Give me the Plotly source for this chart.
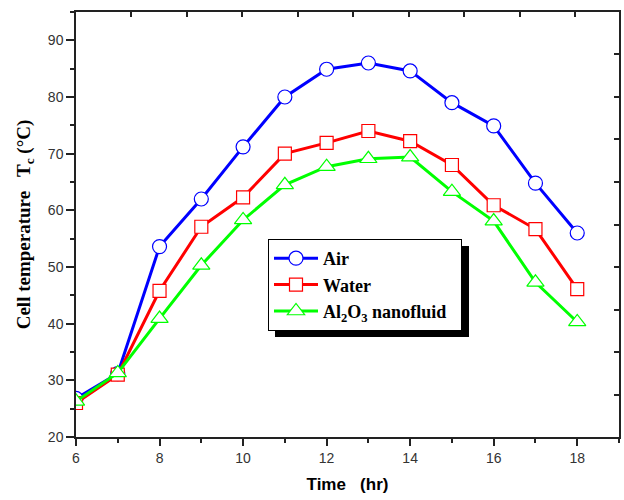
import plotly.graph_objects as go

hours = [6, 7, 8, 9, 10, 11, 12, 13, 14, 15, 16, 17, 18]
air = [26.8, 31.2, 53.6, 62.0, 71.2, 80.0, 84.9, 86.0, 84.6, 79.0, 74.9, 64.8, 56.0]
water = [26.0, 31.0, 45.8, 57.1, 62.3, 70.0, 71.9, 74.0, 72.2, 68.0, 60.9, 56.7, 46.1]
al2o3 = [26.3, 31.3, 40.9, 50.3, 58.3, 64.5, 67.7, 69.1, 69.4, 63.3, 58.1, 47.3, 40.3]

series_names = ["Air", "Water", "Al<sub>2</sub>O<sub>3</sub> nanofluid\u00a0\u00a0"]
series_values = [air, water, al2o3]
series_colors = ["#0000FF", "#FF0000", "#00FF00"]
series_symbols = ["circle", "square", "triangle-up"]
series_sizes = [14, 13, 15]

W, H = 624, 500
L, R, T, B = 76, 5, 12, 63
pw, ph = W - L - R, H - T - B

def px_x(p):
    return (p - L) / pw

def px_y(p):
    return (H - B - p) / ph

fig = go.Figure()
for name, vals, col, sym, sz in zip(series_names, series_values, series_colors, series_symbols, series_sizes):
    fig.add_trace(go.Scatter(
        x=hours, y=vals, name=name, mode="lines+markers",
        line=dict(color=col, width=3),
        marker=dict(symbol=sym, size=sz, color="white", line=dict(color=col, width=1.2)),
    ))

# helper trace for mirrored top/right axes
fig.add_trace(go.Scatter(x=[0.5], y=[0.5], xaxis="x2", yaxis="y2", mode="markers",
                         marker=dict(opacity=0, size=1), showlegend=False, hoverinfo="skip"))

axis_col = "#222222"
tick_font = dict(family="Liberation Sans, Arial, sans-serif", size=14, color="#333333")

fig.update_layout(
    width=W, height=H,
    margin=dict(l=L, r=R, t=T, b=B),
    paper_bgcolor="white", plot_bgcolor="white",
    xaxis=dict(
        range=[6, 19], tickmode="linear", tick0=6, dtick=2,
        ticks="outside", ticklen=7, tickwidth=1.5, tickcolor=axis_col,
        minor=dict(dtick=1, ticks="outside", ticklen=4, tickwidth=1.5, tickcolor=axis_col),
        showline=True, linecolor=axis_col, linewidth=1.5, showgrid=False, zeroline=False,
        tickfont=tick_font, automargin=False,
        title=dict(text="Time   (hr)", standoff=14,
                   font=dict(family="Liberation Sans, Arial, sans-serif", size=17, color="black", weight="bold")),
    ),
    yaxis=dict(
        range=[20, 95], tickmode="linear", tick0=20, dtick=10,
        ticks="outside", ticklen=8, tickwidth=1.5, tickcolor=axis_col,
        minor=dict(dtick=5, ticks="outside", ticklen=4, tickwidth=1.5, tickcolor=axis_col),
        showline=True, linecolor=axis_col, linewidth=1.5, showgrid=False, zeroline=False,
        tickfont=tick_font, automargin=False,
        title=dict(text="Cell temperature   T<sub>c</sub> (°C)", standoff=12,
                   font=dict(family="Liberation Serif, Times New Roman, serif", size=19, color="black", weight="bold")),
    ),
    xaxis2=dict(
        overlaying="x", side="top", range=[0, 1], tickmode="linear",
        tick0=px_x(131), dtick=55.5 / pw,
        ticks="inside", ticklen=5, tickwidth=1.5, tickcolor=axis_col,
        showticklabels=False, showline=True, linecolor=axis_col, linewidth=1.5,
        showgrid=False, zeroline=False,
    ),
    yaxis2=dict(
        overlaying="y", side="right", range=[0, 1], tickmode="linear",
        tick0=px_y(395), dtick=42.6 / ph,
        ticks="inside", ticklen=5, tickwidth=1.5, tickcolor=axis_col,
        showticklabels=False, showline=True, linecolor=axis_col, linewidth=1.5,
        showgrid=False, zeroline=False,
    ),
    legend=dict(
        x=px_x(268), y=px_y(239), xanchor="left", yanchor="top",
        bgcolor="white", bordercolor="black", borderwidth=1,
        font=dict(family="Liberation Serif, Times New Roman, serif", size=18, color="black", weight="bold"),
        itemwidth=44,
    ),
    shapes=[dict(
        type="rect", xref="paper", yref="paper",
        x0=px_x(275), x1=px_x(469), y0=px_y(337), y1=px_y(246),
        fillcolor="black", line=dict(width=0), layer="above",
    )],
    showlegend=True,
)

fig.write_html("out.html", config={"displayModeBar": False},
               post_script="document.body.style.margin='0';document.body.style.overflow='hidden';")
